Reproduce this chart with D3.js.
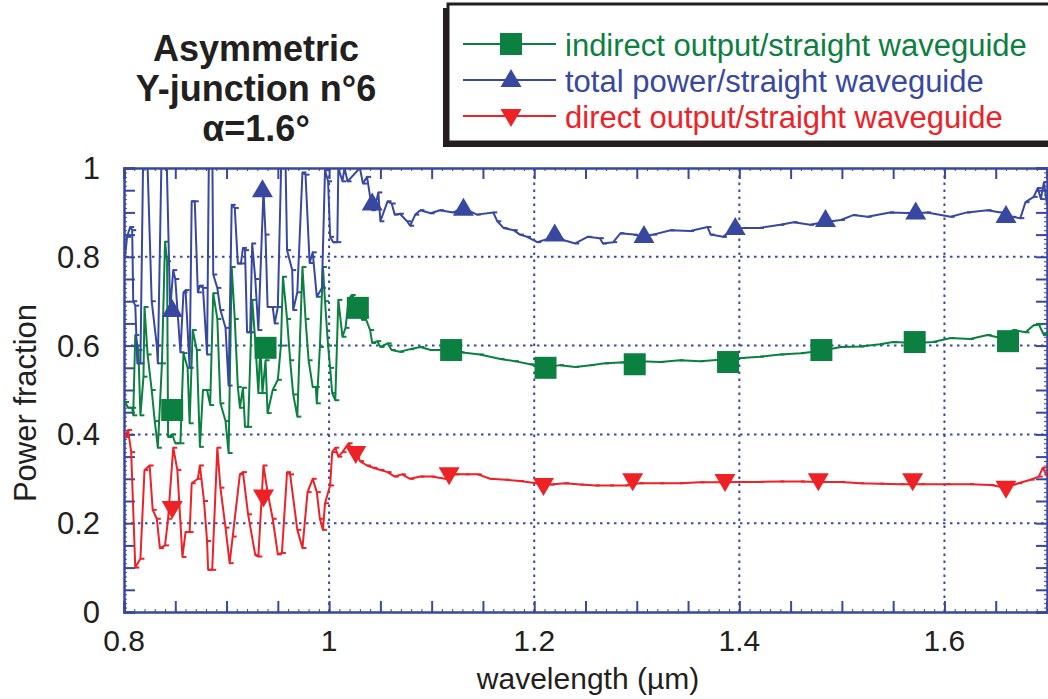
<!DOCTYPE html>
<html>
<head>
<meta charset="utf-8">
<script src="https://cdn.jsdelivr.net/npm/d3@7"></script>
<style>
  html, body { margin: 0; padding: 0; background: #fff; }
  svg { display: block; }
  text { font-family: "Liberation Sans", Arial, Helvetica, sans-serif; }
</style>
</head>
<body>
<script>
// ---------------- DATA ----------------
const titleLines = ["Asymmetric", "Y-junction n°6", "α=1.6°"];
const xTicks = [0.8, 1, 1.2, 1.4, 1.6];
const yTicks = [0, 0.2, 0.4, 0.6, 0.8, 1];
const xGrid = [1.0, 1.2, 1.4, 1.6];
const yGrid = [0.2, 0.4, 0.6, 0.8];
const legendLabels = ["indirect output/straight waveguide", "total power/straight waveguide", "direct output/straight waveguide"];

// total power / straight waveguide (blue, triangles up)
const totalWl = [0.801,0.803,0.806,0.808,0.809,0.811,0.813,0.816,0.819,0.822,0.827,0.832,0.833,0.837,0.841,0.845,0.848,0.850,0.855,0.858,0.860,0.864,0.866,0.869,0.872,0.874,0.877,0.881,0.883,0.886,0.887,0.891,0.894,0.899,0.902,0.905,0.908,0.911,0.914,0.916,0.918,0.920,0.923,0.925,0.928,0.931,0.936,0.938,0.940,0.945,0.947,0.950,0.954,0.957,0.959,0.964,0.965,0.969,0.974,0.977,0.981,0.984,0.988,0.993,0.996,0.999,1.001,1.004,1.008,1.009,1.013,1.015,1.018,1.030,1.033,1.037,1.042,1.045,1.048,1.050,1.057,1.061,1.064,1.069,1.076,1.079,1.084,1.089,1.099,1.108,1.121,1.131,1.144,1.160,1.164,1.170,1.180,1.186,1.193,1.203,1.213,1.225,1.240,1.252,1.264,1.267,1.277,1.284,1.297,1.306,1.316,1.333,1.352,1.369,1.372,1.384,1.394,1.404,1.420,1.440,1.453,1.469,1.482,1.499,1.511,1.525,1.547,1.572,1.583,1.606,1.622,1.642,1.655,1.666,1.674,1.679,1.687,1.691,1.694,1.697,1.700];
const totalVal = [0.80,0.845,0.867,0.86,0.70,0.69,0.56,0.56,1.08,1.08,0.70,0.60,0.56,1.08,1.08,0.68,0.77,0.75,0.585,0.72,0.725,0.55,0.925,0.925,0.72,0.735,0.73,0.58,1.08,1.08,0.76,0.73,0.68,0.64,0.51,0.917,0.91,0.785,0.785,0.82,0.815,0.63,0.63,0.83,0.75,0.635,0.95,0.85,0.687,0.687,0.65,0.687,1.08,1.08,0.815,0.77,0.68,0.72,0.99,0.985,0.786,0.81,0.71,0.73,0.995,0.97,0.845,0.833,0.833,1.0,0.97,1.0,0.97,1.0,0.965,0.98,0.905,0.915,0.945,0.88,0.925,0.92,0.895,0.897,0.88,0.87,0.895,0.905,0.898,0.905,0.90,0.91,0.895,0.90,0.88,0.865,0.86,0.85,0.845,0.833,0.84,0.84,0.83,0.845,0.842,0.83,0.833,0.853,0.85,0.845,0.85,0.86,0.858,0.867,0.85,0.845,0.862,0.865,0.865,0.872,0.878,0.872,0.878,0.883,0.894,0.89,0.90,0.898,0.90,0.89,0.90,0.905,0.90,0.89,0.887,0.923,0.935,0.955,0.93,0.968,0.917];
const totalMarkWl = [0.847,0.935,1.042,1.131,1.220,1.307,1.396,1.484,1.572,1.660];
const totalMarkVal = [0.68,0.95,0.92,0.908,0.85,0.847,0.865,0.883,0.90,0.892];

// indirect output / straight waveguide (green, squares)
const indirectWl = [0.801,0.804,0.808,0.809,0.811,0.814,0.816,0.819,0.820,0.823,0.827,0.830,0.833,0.837,0.840,0.842,0.843,0.847,0.850,0.855,0.858,0.862,0.864,0.867,0.871,0.874,0.877,0.881,0.884,0.887,0.891,0.894,0.899,0.902,0.905,0.908,0.911,0.913,0.916,0.918,0.921,0.925,0.928,0.931,0.933,0.935,0.938,0.940,0.945,0.950,0.953,0.955,0.959,0.962,0.965,0.969,0.974,0.977,0.980,0.984,0.987,0.988,0.991,0.994,0.996,0.999,1.001,1.003,1.006,1.009,1.013,1.016,1.019,1.022,1.027,1.032,1.035,1.040,1.042,1.047,1.050,1.057,1.061,1.069,1.079,1.089,1.099,1.113,1.128,1.147,1.167,1.181,1.196,1.211,1.225,1.240,1.255,1.269,1.284,1.303,1.323,1.342,1.362,1.381,1.402,1.420,1.440,1.460,1.479,1.499,1.518,1.537,1.550,1.572,1.589,1.606,1.625,1.642,1.655,1.667,1.679,1.687,1.692,1.697,1.700];
const indirectVal = [0.473,0.46,0.46,0.443,0.624,0.59,0.443,0.53,0.687,0.58,0.50,0.43,0.37,0.56,0.834,0.79,0.394,0.40,0.38,0.38,0.583,0.55,0.425,0.635,0.59,0.372,0.50,0.50,0.466,0.718,0.66,0.47,0.43,0.358,0.777,0.66,0.507,0.46,0.505,0.417,0.417,0.703,0.61,0.493,0.60,0.493,0.567,0.448,0.50,0.523,0.60,0.755,0.66,0.567,0.49,0.44,0.777,0.66,0.567,0.507,0.507,0.47,0.597,0.777,0.70,0.60,0.55,0.493,0.477,0.703,0.62,0.64,0.703,0.714,0.70,0.658,0.665,0.635,0.606,0.61,0.597,0.605,0.59,0.586,0.592,0.597,0.59,0.59,0.585,0.58,0.57,0.565,0.558,0.55,0.556,0.552,0.556,0.56,0.562,0.565,0.563,0.567,0.565,0.568,0.572,0.575,0.58,0.583,0.588,0.597,0.598,0.603,0.608,0.606,0.608,0.617,0.615,0.624,0.617,0.635,0.63,0.646,0.648,0.624,0.63];
const indirectMarkWl = [0.847,0.938,1.028,1.119,1.211,1.298,1.389,1.480,1.571,1.662];
const indirectMarkVal = [0.455,0.595,0.685,0.59,0.55,0.558,0.563,0.59,0.608,0.61];

// direct output / straight waveguide (red, triangles down)
const directWl = [0.801,0.804,0.807,0.811,0.816,0.820,0.825,0.828,0.832,0.835,0.840,0.843,0.848,0.852,0.857,0.860,0.864,0.866,0.872,0.874,0.878,0.881,0.882,0.886,0.891,0.894,0.899,0.903,0.906,0.913,0.916,0.921,0.928,0.931,0.936,0.940,0.945,0.950,0.954,0.959,0.962,0.969,0.974,0.979,0.984,0.988,0.991,0.994,0.996,1.001,1.003,1.006,1.009,1.013,1.019,1.022,1.027,1.030,1.037,1.043,1.050,1.057,1.064,1.071,1.079,1.089,1.100,1.113,1.123,1.133,1.145,1.157,1.172,1.186,1.202,1.216,1.230,1.245,1.260,1.274,1.289,1.303,1.323,1.342,1.362,1.381,1.402,1.420,1.440,1.460,1.479,1.499,1.518,1.537,1.557,1.577,1.602,1.625,1.645,1.660,1.672,1.684,1.692,1.696,1.699,1.700];
const directVal = [0.394,0.41,0.36,0.10,0.12,0.32,0.33,0.23,0.21,0.144,0.15,0.21,0.37,0.32,0.124,0.18,0.18,0.29,0.30,0.33,0.25,0.16,0.095,0.095,0.37,0.28,0.19,0.11,0.17,0.31,0.315,0.22,0.128,0.125,0.33,0.27,0.21,0.13,0.133,0.315,0.31,0.185,0.144,0.27,0.30,0.27,0.21,0.185,0.245,0.285,0.36,0.37,0.35,0.36,0.38,0.365,0.36,0.34,0.33,0.325,0.32,0.315,0.305,0.31,0.30,0.305,0.305,0.30,0.31,0.31,0.31,0.30,0.298,0.295,0.29,0.287,0.29,0.287,0.285,0.285,0.285,0.29,0.29,0.29,0.292,0.292,0.293,0.293,0.294,0.294,0.293,0.293,0.29,0.289,0.288,0.288,0.288,0.288,0.286,0.28,0.29,0.298,0.305,0.325,0.31,0.305];
const directMarkWl = [0.847,0.936,1.026,1.117,1.209,1.296,1.386,1.477,1.569,1.660];
const directMarkVal = [0.234,0.26,0.358,0.31,0.286,0.297,0.295,0.297,0.297,0.28];

// ---------------- DRAWING ----------------
const W = 1048, H = 699;
const GREEN = "#0b8040", BLUE = "#3848a0", RED = "#ed2126", INK = "#231f20";

const svg = d3.select("body").append("svg").attr("width", W).attr("height", H);

const x = d3.scaleLinear().domain([0.8, 1.7]).range([124, 1047]);
const y = d3.scaleLinear().domain([0, 1]).range([612, 168]);
const [x0, x1] = x.range(), [y0, y1] = y.range();

svg.append("defs").append("clipPath").attr("id", "plotclip")
  .append("rect").attr("x", x0).attr("y", y1).attr("width", x1 - x0).attr("height", y0 - y1);

// grid (dotted)
const grid = svg.append("g").attr("stroke", BLUE).attr("stroke-width", 2).attr("stroke-dasharray", "2.5,4.5");
grid.selectAll("line.gx").data(xGrid).join("line").attr("class", "gx")
  .attr("x1", d => x(d)).attr("x2", d => x(d)).attr("y1", y0).attr("y2", y1);
grid.selectAll("line.gy").data(yGrid).join("line").attr("class", "gy")
  .attr("x1", x0).attr("x2", x1).attr("y1", d => y(d)).attr("y2", d => y(d));

// axes: frame with inward ticks
const xMinor = d3.range(0.8, 1.7001, 0.05).map(v => +v.toFixed(3));
const xFine = d3.range(0.8, 1.7001, 0.01).map(v => +v.toFixed(3));
const yMinor = d3.range(0, 1.0001, 0.05).map(v => +v.toFixed(3));
const yFine = d3.range(0, 1.0001, 0.01).map(v => +v.toFixed(3));

const axB = d3.axisBottom(x).tickValues(xMinor).tickSize(-11).tickFormat("");
const axT = d3.axisTop(x).tickValues(xMinor).tickSize(-11).tickFormat("");
const axL = d3.axisLeft(y).tickValues(yMinor).tickSize(-11).tickFormat("");
const axR = d3.axisRight(y).tickValues(yMinor).tickSize(-11).tickFormat("");
[[axB, `translate(0,${y0})`], [axT, `translate(0,${y1})`], [axL, `translate(${x0},0)`], [axR, `translate(${x1},0)`]]
  .forEach(([ax, tr]) => {
    const g = svg.append("g").attr("transform", tr).call(ax);
    g.select(".domain").attr("stroke", BLUE).attr("stroke-width", 2.5);
    g.selectAll(".tick line").attr("stroke", BLUE).attr("stroke-width", 2);
  });
// fine ticks
const fineB = d3.axisBottom(x).tickValues(xFine).tickSize(-3).tickFormat("");
const fineT = d3.axisTop(x).tickValues(xFine).tickSize(-3).tickFormat("");
const fineL = d3.axisLeft(y).tickValues(yFine).tickSize(-3).tickFormat("");
const fineR = d3.axisRight(y).tickValues(yFine).tickSize(-3).tickFormat("");
[[fineB, `translate(0,${y0})`], [fineT, `translate(0,${y1})`], [fineL, `translate(${x0},0)`], [fineR, `translate(${x1},0)`]]
  .forEach(([ax, tr]) => {
    const g = svg.append("g").attr("transform", tr).call(ax);
    g.select(".domain").remove();
    g.selectAll(".tick line").attr("stroke", BLUE).attr("stroke-width", 1);
  });

// tick labels
svg.append("g").selectAll("text").data(xTicks).join("text")
  .attr("x", d => x(d)).attr("y", 651).attr("text-anchor", "middle")
  .attr("font-size", 30).attr("fill", INK).text(d => d3.format("")(d));
svg.append("g").selectAll("text").data(yTicks).join("text")
  .attr("x", 100).attr("y", d => y(d) + 11).attr("text-anchor", "end")
  .attr("font-size", 31).attr("fill", INK).text(d => d3.format("")(d));

// axis titles
svg.append("text").attr("x", 588).attr("y", 689).attr("text-anchor", "middle")
  .attr("font-size", 30).attr("fill", INK).text("wavelength (µm)");
svg.append("text").attr("transform", "translate(36,403) rotate(-90)").attr("text-anchor", "middle")
  .attr("font-size", 31).attr("fill", INK).text("Power fraction");

// series
const series = [
  { wl: indirectWl, v: indirectVal, mw: indirectMarkWl, mv: indirectMarkVal, color: GREEN, shape: "square" },
  { wl: totalWl, v: totalVal, mw: totalMarkWl, mv: totalMarkVal, color: BLUE, shape: "up" },
  { wl: directWl, v: directVal, mw: directMarkWl, mv: directMarkVal, color: RED, shape: "down" }
];
const line = d3.line().x(d => x(d[0])).y(d => y(d[1]));
const shapePath = {
  square: "M-11,-11H11V11H-11Z",
  up: "M0,-11L10.5,7H-10.5Z",
  down: "M-10.5,-7H10.5L0,11Z"
};

const plot = svg.append("g").attr("clip-path", "url(#plotclip)");
series.forEach(s => {
  const pts = s.wl.map((w, i) => [w, s.v[i]]);
  plot.append("path").datum(pts).attr("d", line)
    .attr("fill", "none").attr("stroke", s.color).attr("stroke-width", 2).attr("stroke-linejoin", "round");
  plot.append("g").selectAll("line").data(pts).join("line")
    .attr("x1", d => x(d[0])).attr("x2", d => x(d[0]) + 4)
    .attr("y1", d => y(d[1])).attr("y2", d => y(d[1]))
    .attr("stroke", s.color).attr("stroke-width", 2);
});
series.forEach(s => {
  svg.append("g").selectAll("path").data(s.mw.map((w, i) => [w, s.mv[i]])).join("path")
    .attr("transform", d => `translate(${x(d[0])},${y(d[1])})`)
    .attr("d", shapePath[s.shape]).attr("fill", s.color);
});

// title
svg.append("g").selectAll("text").data(titleLines).join("text")
  .attr("x", 256).attr("y", (d, i) => 61 + i * 40).attr("text-anchor", "middle")
  .attr("font-size", 36).attr("font-weight", "bold").attr("fill", INK).text(d => d);

// legend
const lg = svg.append("g");
lg.append("rect").attr("x", 443).attr("y", 8).attr("width", 620).attr("height", 139).attr("fill", INK);
lg.append("rect").attr("x", 448).attr("y", 4).attr("width", 620).attr("height", 138)
  .attr("fill", "#fff").attr("stroke", INK).attr("stroke-width", 3);
const legendRows = [
  { label: legendLabels[0], color: GREEN, shape: "square" },
  { label: legendLabels[1], color: BLUE, shape: "up" },
  { label: legendLabels[2], color: RED, shape: "down" }
];
legendRows.forEach((r, i) => {
  const cy = 44 + i * 36;
  lg.append("line").attr("x1", 463).attr("x2", 556).attr("y1", cy).attr("y2", cy)
    .attr("stroke", r.color).attr("stroke-width", 2);
  lg.append("path").attr("transform", `translate(511,${cy})`).attr("d", shapePath[r.shape]).attr("fill", r.color);
  lg.append("text").attr("x", 565).attr("y", cy + 12).attr("font-size", 31).attr("fill", r.color).text(r.label);
});
</script>
</body>
</html>
